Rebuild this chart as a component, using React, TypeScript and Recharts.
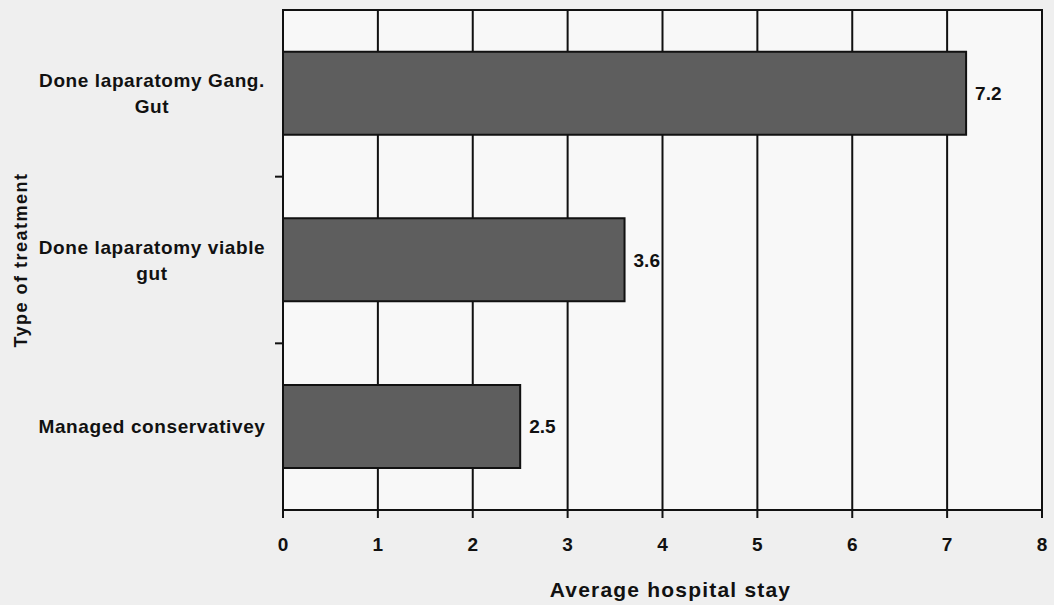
import { BarChart, Bar, XAxis, YAxis, CartesianGrid, LabelList, Label, ReferenceArea } from 'recharts';

const treatments = ['Done laparatomy Gang.|Gut', 'Done laparatomy viable|gut', 'Managed conservativey'];
const avgStay = [7.2, 3.6, 2.5];
const xTicks = [0, 1, 2, 3, 4, 5, 6, 7, 8];

const data = treatments.map((t, i) => ({ name: t, stay: avgStay[i] }));

const font = '"Liberation Sans", Arial, sans-serif';

// category labels, centred, plus small tick marks on the boundaries between categories
const TreatmentTick = ({ x, y, payload, index }: any) => {
  const lines: string[] = String(payload.value).split('|');
  const lineH = 26;
  const start = y - ((lines.length - 1) * lineH) / 2;
  const half = payload.offset ?? 83;
  return (
    <g>
      {index > 0 && (
        <line x1={x} x2={x + 8} y1={y - half} y2={y - half} stroke="#111" strokeWidth={2} />
      )}
      {lines.map((ln, i) => (
        <text
          key={i}
          x={152}
          y={start + i * lineH}
          dy="0.35em"
          textAnchor="middle"
          fontFamily={font}
          fontWeight="bold"
          fontSize={19}
          letterSpacing={0.6}
          fill="#111"
        >
          {ln}
        </text>
      ))}
    </g>
  );
};

const App = () => {
  return (
    <div style={{ position: 'fixed', left: 0, top: 0, width: 1054, height: 605, background: '#efefef' }}>
      <BarChart
        width={1054}
        height={605}
        data={data}
        layout="vertical"
        margin={{ top: 10, right: 12, left: 0, bottom: 0 }}
        barCategoryGap="25%"
      >
        <CartesianGrid horizontal={false} vertical stroke="#111" strokeWidth={2} fill="#f8f8f8" />
        <ReferenceArea x1={0} x2={8} fill="none" stroke="#111" strokeWidth={2} fillOpacity={0} />
        <XAxis
          type="number"
          domain={[0, 8]}
          ticks={xTicks}
          height={95}
          tickSize={8}
          tickMargin={20}
          axisLine={{ stroke: '#111', strokeWidth: 2 }}
          tickLine={{ stroke: '#111', strokeWidth: 2 }}
          tick={{ fill: '#111', fontSize: 19, fontWeight: 'bold', fontFamily: font }}
        >
          <Label
            value="Average hospital stay"
            position="insideBottom"
            offset={8}
            dx={8}
            style={{ fill: '#111', fontSize: 21, fontWeight: 'bold', fontFamily: font, letterSpacing: 1.2 }}
          />
        </XAxis>
        <YAxis
          type="category"
          dataKey="name"
          width={283}
          tickLine={false}
          axisLine={{ stroke: '#111', strokeWidth: 2 }}
          tick={<TreatmentTick />}
        >
          <Label
            value="Type of treatment"
            angle={-90}
            position="insideLeft"
            offset={21}
            style={{ fill: '#111', fontSize: 18, fontWeight: 'bold', fontFamily: font, letterSpacing: 1.5, textAnchor: 'middle' }}
          />
        </YAxis>
        <Bar dataKey="stay" fill="#5e5e5e" stroke="#111" strokeWidth={2} isAnimationActive={false}>
          <LabelList
            dataKey="stay"
            position="right"
            offset={9}
            style={{ fill: '#111', fontSize: 19, fontWeight: 'bold', fontFamily: font }}
          />
        </Bar>
      </BarChart>
    </div>
  );
};

export default App;
